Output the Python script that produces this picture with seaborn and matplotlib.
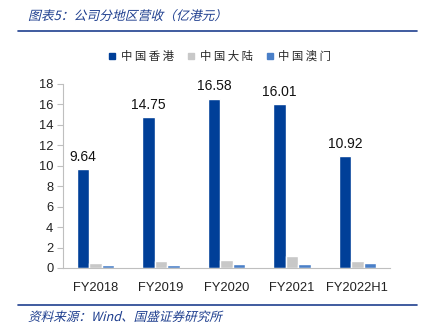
import matplotlib
matplotlib.use("Agg")
import matplotlib.pyplot as plt
from matplotlib.lines import Line2D
from matplotlib.patches import PathPatch
from matplotlib.textpath import TextPath
from matplotlib.font_manager import FontProperties
from matplotlib.transforms import Affine2D
import seaborn as sns
import pandas as pd

# Revenue by region (HKD 100m)
years = ["FY2018", "FY2019", "FY2020", "FY2021", "FY2022H1"]
regions = ["中国香港", "中国大陆", "中国澳门"]
hong_kong = [9.64, 14.75, 16.58, 16.01, 10.92]
mainland = [0.46, 0.65, 0.75, 1.15, 0.65]
macau = [0.30, 0.33, 0.40, 0.40, 0.45]
colors = ["#003f98", "#c8c8c8", "#4a7fc8"]

df = pd.DataFrame({
    "year": years * 3,
    "region": [regions[0]] * 5 + [regions[1]] * 5 + [regions[2]] * 5,
    "value": hong_kong + mainland + macau,
})

sns.set_theme(style="white")
plt.rcParams["font.family"] = ["Noto Sans CJK SC", "DejaVu Sans"]

W, H = 425, 327
fig = plt.figure(figsize=(W / 100, H / 100), dpi=100)
ax = fig.add_axes([63 / W, 1 - 268 / H, 327 / W, 184 / H])

sns.barplot(data=df, x="year", y="value", hue="region", hue_order=regions,
            palette=colors, width=0.57, saturation=1, ax=ax, legend=False)

ax.set_ylim(0, 18)
ax.set_yticks(range(0, 19, 2))
ax.set_xlabel("")
ax.set_ylabel("")
for s in ["top", "right"]:
    ax.spines[s].set_visible(False)
for s in ["left", "bottom"]:
    ax.spines[s].set_color("#bfbfbf")
    ax.spines[s].set_linewidth(0.8)
ax.tick_params(axis="y", which="both", left=True, length=4, width=0.8,
               color="#bfbfbf", labelsize=9.3, pad=3, labelcolor="#222222")
ax.tick_params(axis="x", bottom=False, labelsize=9.3, pad=4, labelcolor="#222222")
for lbl in ax.get_xticklabels() + ax.get_yticklabels():
    lbl.set_fontfamily("Liberation Sans")

# value labels on the Hong Kong bars
hk_bars = ax.containers[0]
for bar, v in zip(hk_bars, hong_kong):
    ax.annotate(f"{v:.2f}", (bar.get_x() + bar.get_width() / 2, v),
                xytext=(0, 4), textcoords="offset points", ha="center",
                va="bottom", fontsize=10, color="#111111", family="Liberation Sans")

# legend
handles = [Line2D([0], [0], marker="s", linestyle="", markersize=4.5,
                  markerfacecolor=c, markeredgecolor=c) for c in colors]
fig.legend(handles, [" ".join(r) for r in regions], loc="center",
           bbox_to_anchor=(219 / W, 1 - 56 / H),
           ncol=3, frameon=False, handletextpad=0.25,
           columnspacing=1.0, handlelength=1.0,
           prop={"family": ["Noto Sans CJK SC"], "size": 8.2})


def slanted_text(x_px, y_px, text, size_px, color):
    """Draw text as a sheared path to get an oblique look for CJK glyphs."""
    fp = FontProperties(family=["Noto Sans CJK SC"], weight="light")
    path = TextPath((0, 0), text, size=size_px, prop=fp)
    tr = Affine2D().skew_deg(14, 0).translate(x_px, H - y_px)
    patch = PathPatch(tr.transform_path(path), facecolor=color,
                      edgecolor="none", transform=None)
    fig.add_artist(patch)


title_color = "#1f3f8f"
slanted_text(28, 20, "图表5：公司分地区营收（亿港元）", 12.8, title_color)
fig.add_artist(Line2D([18 / W, 417 / W], [1 - 31 / H, 1 - 31 / H],
                      color="#1f3f8f", linewidth=1.2))
fig.add_artist(Line2D([18 / W, 417 / W], [1 - 305 / H, 1 - 305 / H],
                      color="#1f3f8f", linewidth=1.2))
slanted_text(28, 321, "资料来源：Wind、国盛证券研究所", 12.6, title_color)

fig.savefig("out.png", dpi=100)
